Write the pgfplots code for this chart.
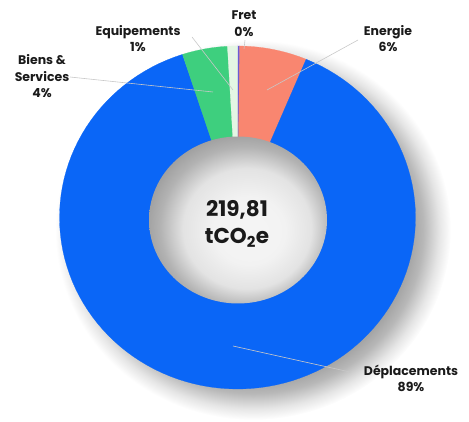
\documentclass[border=0pt]{standalone}
\usepackage{pgfplots}
\pgfplotsset{compat=1.18}
\usepackage{pgfplotstable}
\usepackage{fontspec}
\setmainfont{Poppins}

\definecolor{cDepl}{HTML}{0A66F7}
\definecolor{cEner}{HTML}{F98670}
\definecolor{cBiens}{HTML}{3ECF7E}
\definecolor{cEquip}{HTML}{E4F6E4}
\definecolor{cFret}{HTML}{6B5BD6}
\definecolor{cText}{HTML}{1A1A1A}
\definecolor{cLead}{HTML}{C8C8C8}

\pgfdeclareradialshading{shadowsh}{\pgfpoint{0bp}{0bp}}{color(0bp)=(black!38); color(19.5bp)=(black!38); color(21.5bp)=(black!28); color(23.5bp)=(black!10); color(25bp)=(white); color(50bp)=(white)}
\pgfdeclareradialshading{holesh}{\pgfpoint{4bp}{-4bp}}{color(0bp)=(black!4); color(10bp)=(black!5); color(18bp)=(black!11); color(24bp)=(black!30); color(29bp)=(black!40); color(50bp)=(black!40)}

% percentages, clockwise from 12 o'clock
\pgfplotstableread{
name value
Fret 0.2
Energie 6.1
Deplacements 88.7
Biens 4.1
Equipements 0.9
}\datatable

\def\cx{237.5}\def\cy{203.5}\def\rx{178}\def\ry{171.5}
\def\icx{238}\def\icy{201}\def\irx{89}\def\iry{83.5}

\newcommand\donutslice[3]{%
  \addplot[fill=#1, draw=#1, line width=0.2pt, domain=#3:#2, samples=120, variable=\t]
    ({\cx+\rx*cos(\t)},{\cy+\ry*sin(\t)}) -- (axis cs:\cx,\cy) -- cycle;}

\begin{document}%
\pgfplotstablegetelem{0}{value}\of\datatable\let\vA\pgfplotsretval%
\pgfplotstablegetelem{1}{value}\of\datatable\let\vB\pgfplotsretval%
\pgfplotstablegetelem{2}{value}\of\datatable\let\vC\pgfplotsretval%
\pgfplotstablegetelem{3}{value}\of\datatable\let\vD\pgfplotsretval%
\pgfplotstablegetelem{4}{value}\of\datatable\let\vE\pgfplotsretval%
\pgfmathsetmacro\aA{90}%
\pgfmathsetmacro\aB{\aA-3.6*\vA}%
\pgfmathsetmacro\aC{\aB-3.6*\vB}%
\pgfmathsetmacro\aD{\aC-3.6*\vC}%
\pgfmathsetmacro\aE{\aD-3.6*\vD}%
\pgfmathsetmacro\aF{\aE-3.6*\vE}%
\begin{tikzpicture}
\begin{axis}[hide axis, scale only axis, width=469pt, height=421pt,
  xmin=0, xmax=469, ymin=0, ymax=421, clip=false]
\addplot[draw=none] coordinates {(0,0) (469,421)};
% shadow
\addplot[draw=none, shade, shading=shadowsh, domain=0:360, samples=120, variable=\t]
  ({253+198*cos(\t)},{191+190*sin(\t)}) -- cycle;
% slices
\donutslice{cFret}{\aA}{\aB}
\donutslice{cEner}{\aB}{\aC}
\donutslice{cDepl}{\aC}{\aD}
\donutslice{cBiens}{\aD}{\aE}
\donutslice{cEquip}{\aE}{\aF}
% hole
\addplot[draw=none, shade, shading=holesh, domain=0:360, samples=120, variable=\t]
  ({\icx+\irx*cos(\t)},{\icy+\iry*sin(\t)}) -- cycle;
% leader lines
\addplot[cLead, line width=0.6pt] coordinates {(70,344) (213,329)};
\addplot[cLead, line width=0.6pt] coordinates {(192,384) (233,331)};
\addplot[cLead, line width=0.6pt] coordinates {(245,381) (244,372)};
\addplot[cLead, line width=0.6pt] coordinates {(358,381) (267,331)};
\addplot[cLead, line width=0.6pt] coordinates {(233,75) (350,49)};
% labels
\begin{scope}[every node/.style={align=center, text=cText, font=\fontsize{12.5}{16.5}\selectfont\bfseries}]
\node at (axis cs:244,397.5) {Fret\\0\%};
\node at (axis cs:388,382.5) {Energie\\6\%};
\node at (axis cs:138,382.5) {Equipements\\1\%};
\node at (axis cs:42,344.5) {Biens \&\\Services\\4\%};
\node at (axis cs:411,42.5) {Déplacements\\89\%};
\end{scope}
\node[align=center, text=cText, font=\fontsize{21.5}{27}\selectfont\bfseries] at (axis cs:237,197) {219,81\\tCO\textsubscript{2}e};
\end{axis}
\pgfresetboundingbox
\useasboundingbox (current axis.south west) rectangle (current axis.north east);
\end{tikzpicture}%
\end{document}
